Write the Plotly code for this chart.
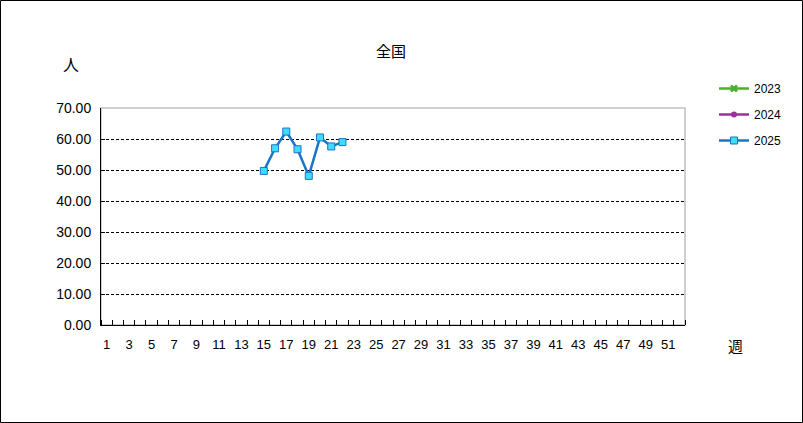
import plotly.graph_objects as go

weeks = list(range(1, 53))
series_names = ["2023", "2024", "2025"]
vals_2023 = [None] * 52
vals_2024 = [None] * 52
vals_2025_weeks = [15, 16, 17, 18, 19, 20, 21, 22]
vals_2025 = [49.7, 57.0, 62.4, 56.7, 48.1, 60.5, 57.6, 59.0]
x_tick_vals = list(range(1, 52, 2))
y_tick_vals = [0, 10, 20, 30, 40, 50, 60, 70]

W, H = 803, 423
ML, MR, MT, MB = 101, 118, 108, 98
pw, ph = W - ML - MR, H - MT - MB

num_font = "Liberation Sans, Arial, sans-serif"
cjk_font = "Noto Sans CJK JP, sans-serif"

fig = go.Figure()
fig.add_trace(go.Scatter(x=weeks, y=vals_2023, name="2023", mode="lines+markers",
                         line=dict(color="#4DAF2E", width=2.5),
                         marker=dict(symbol="x", size=7, color="#4DAF2E"),
                         legendgroup="a"))
fig.add_trace(go.Scatter(x=weeks, y=vals_2024, name="2024", mode="lines+markers",
                         line=dict(color="#993399", width=2.5),
                         marker=dict(symbol="circle", size=6, color="#993399"),
                         legendgroup="b"))
fig.add_trace(go.Scatter(x=vals_2025_weeks, y=vals_2025, name="2025", mode="lines+markers",
                         line=dict(color="#1A74C8", width=2.5),
                         marker=dict(symbol="square", size=7, color="#3FDCFF",
                                     line=dict(color="#1A74C8", width=1)),
                         legendgroup="c"))

fig.update_layout(
    width=W, height=H,
    margin=dict(l=ML, r=MR, t=MT, b=MB),
    paper_bgcolor="white", plot_bgcolor="white",
    font=dict(family=num_font, size=13, color="black"),
    showlegend=True,
    legend=dict(x=(714 - ML) / pw, y=(325 - 74) / ph, xanchor="left", yanchor="top",
                font=dict(family=num_font, size=12), tracegroupgap=7,
                bgcolor="rgba(0,0,0,0)", itemclick=False),
    xaxis=dict(range=[0.5, 52.5], tickmode="array", tickvals=x_tick_vals,
               ticks="", showgrid=False, zeroline=False,
               showline=True, linecolor="black", linewidth=1,
               tickfont=dict(family=num_font, size=13), ticklabelstandoff=7,
               minor=dict(tickmode="array", tickvals=[i + 0.5 for i in range(0, 53)],
                          ticks="inside", ticklen=5, tickcolor="black", showgrid=False)),
    yaxis=dict(range=[0, 70], tickmode="array", tickvals=y_tick_vals,
               tickformat=".2f", ticks="inside", ticklen=4, tickcolor="black",
               showgrid=True, gridcolor="black", gridwidth=1, griddash="3px,2px",
               zeroline=False, showline=True, linecolor="black", linewidth=1,
               tickfont=dict(family=num_font, size=14), ticklabelstandoff=6),
)

# plot-area border (gray, top & right)
fig.add_shape(type="rect", xref="x domain", yref="y domain", x0=0, x1=1, y0=0, y1=1,
              line=dict(color="#C0C0C0", width=1.5), layer="below")
# outer frame
fig.add_shape(type="rect", xref="paper", yref="paper",
              x0=-(ML - 0.5) / pw, x1=(W - ML - 0.5) / pw,
              y0=-(MB - 0.5) / ph, y1=(H - MB - 0.5) / ph,
              line=dict(color="black", width=1))

fig.add_annotation(text="全国", xref="paper", yref="paper", x=(391 - ML) / pw, y=(325 - 50) / ph,
                   showarrow=False, font=dict(family=cjk_font, size=15), xanchor="center", yanchor="middle")
fig.add_annotation(text="人", xref="paper", yref="paper", x=(71 - ML) / pw, y=(325 - 64) / ph,
                   showarrow=False, font=dict(family=cjk_font, size=16), xanchor="center", yanchor="middle")
fig.add_annotation(text="週", xref="paper", yref="paper", x=(735 - ML) / pw, y=(325 - 345) / ph,
                   showarrow=False, font=dict(family=cjk_font, size=15), xanchor="center", yanchor="middle")

fig.write_html("out.html", config={"displayModeBar": False},
               post_script="document.body.style.margin='0';document.body.style.padding='0';"
                           "document.documentElement.style.overflow='hidden';")
